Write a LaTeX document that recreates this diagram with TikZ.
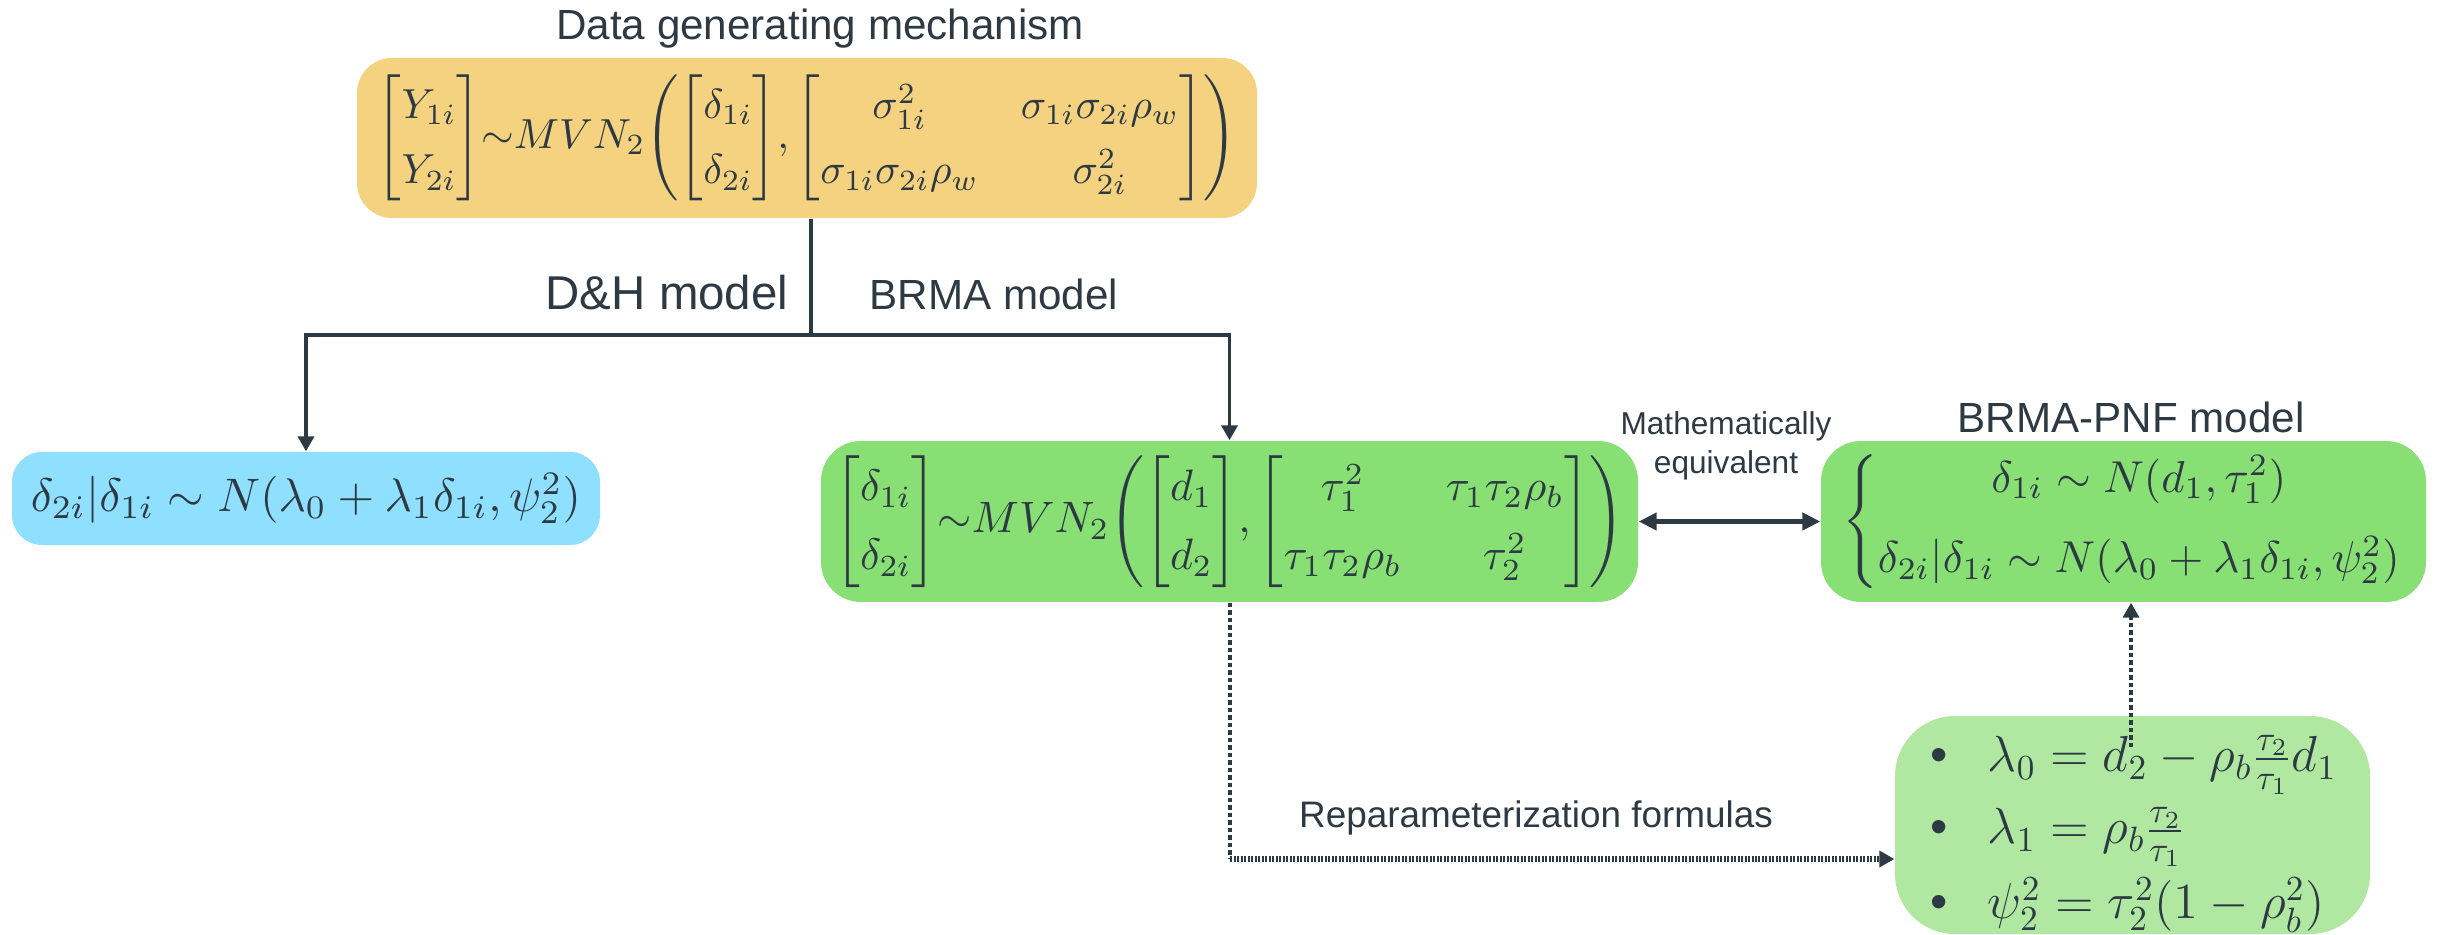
\documentclass[tikz,border=0pt]{standalone}
\usepackage{amsmath}
\usepackage{graphicx}
\usepackage[no-math]{fontspec}
\setmainfont{Liberation Sans}
\usetikzlibrary{arrows.meta}
\definecolor{ink}{HTML}{2D3A44}
\definecolor{orangebox}{HTML}{F4D27F}
\definecolor{bluebox}{HTML}{8FDFFF}
\definecolor{greenbox}{HTML}{88DF73}
\definecolor{lightgreen}{HTML}{B0E8A1}
\newcommand{\tallmat}[1]{{\renewcommand{\arraystretch}{1.3}\begin{bmatrix}#1\end{bmatrix}}}
\tikzset{
  modelbox/.style={rectangle, rounded corners=#1, inner sep=0pt, text=ink, align=center},
  lbl/.style={text=ink, inner sep=0pt},
  conn/.style={draw=ink, line width=1pt},
  tip/.style={-{Triangle[length=1.5mm,width=1.6mm]}},
  dashline/.style={draw=ink, line width=1pt, dash pattern=on 0.45mm off 0.3mm},
  dotline/.style={draw=ink, line width=1.6pt, dash pattern=on 0.2mm off 0.15mm},
}
\begin{document}
\begin{tikzpicture}[x=0.1mm,y=-0.1mm]
\useasboundingbox (0,0) rectangle (2443,935);
% boxes
\node[modelbox=3.5mm, fill=orangebox, minimum width=90mm, minimum height=16mm] (top) at (807,138)
 {\resizebox{86mm}{!}{$\tallmat{Y_{1i}\\ Y_{2i}}{\sim}MVN_2\Biggl(\tallmat{\delta_{1i}\\ \delta_{2i}},\tallmat{\sigma_{1i}^2 & \sigma_{1i}\sigma_{2i}\rho_w\\ \sigma_{1i}\sigma_{2i}\rho_w & \sigma_{2i}^2}\Biggr)$}};
\node[lbl, anchor=base, font=\fontsize{12pt}{14pt}\selectfont] (title) at (820,40) {Data generating mechanism};

\node[modelbox=3mm, fill=bluebox, minimum width=58.8mm, minimum height=9.3mm] (blue) at (306,498.5)
 {\resizebox{55mm}{!}{$\delta_{2i}|\delta_{1i}\sim N(\lambda_0+\lambda_1\delta_{1i},\psi_2^2)$}};

\node[modelbox=4mm, fill=greenbox, minimum width=81.7mm, minimum height=16.1mm] (green) at (1229.5,521.5)
 {\resizebox{79mm}{!}{$\tallmat{\delta_{1i}\\ \delta_{2i}}{\sim}MVN_2\Biggl(\tallmat{d_1\\ d_2},\tallmat{\tau_1^2 & \tau_1\tau_2\rho_b\\ \tau_1\tau_2\rho_b & \tau_2^2}\Biggr)$}};

\node[modelbox=4mm, fill=greenbox, minimum width=60.5mm, minimum height=16.1mm] (pnf) at (2123.5,521.5)
 {\resizebox{56.3mm}{!}{$\left\{\begin{array}{@{}c@{}}\delta_{1i}\sim N(d_1,\tau_1^2)\\[6pt] \delta_{2i}|\delta_{1i}\sim N(\lambda_0+\lambda_1\delta_{1i},\psi_2^2)\end{array}\right.$}};
\node[lbl, anchor=base, font=\fontsize{12pt}{14pt}\selectfont] (pnftitle) at (2131,432) {BRMA-PNF model};

\node[modelbox=6mm, fill=lightgreen, minimum width=47.5mm, minimum height=21.8mm] (fbox) at (2132.5,825) {};
\node[lbl, anchor=west, font=\fontsize{14pt}{16pt}\selectfont] (f1) at (1930,765) {\textbullet\hspace{4mm}$\lambda_0=d_2-\rho_b\frac{\tau_2}{\tau_1}d_1$};
\node[lbl, anchor=west, font=\fontsize{14pt}{16pt}\selectfont] (f2) at (1930,837) {\textbullet\hspace{4mm}$\lambda_1=\rho_b\frac{\tau_2}{\tau_1}$};
\node[lbl, anchor=west, font=\fontsize{14pt}{16pt}\selectfont] (f3) at (1930,905) {\textbullet\hspace{4mm}$\psi_2^2=\tau_2^2(1-\rho_b^2)$};

% labels
\node[lbl, anchor=base east, font=\fontsize{13.5pt}{16pt}\selectfont] (dh) at (789,310) {D\&H model};
\node[lbl, anchor=base west, font=\fontsize{12pt}{14pt}\selectfont] (brma) at (869,310) {BRMA model};
\node[lbl, align=center, font=\fontsize{9pt}{11pt}\selectfont] (equiv) at (1726,446) {Mathematically\\equivalent};
\node[lbl, font=\fontsize{10.5pt}{12pt}\selectfont] (reparam) at (1536,818) {Reparameterization formulas};

% connectors
\coordinate (split) at (811,335);
\coordinate (corner) at (1230,859);
\coordinate (upstart) at (2131,747);
\draw[conn] (split |- top.south) -- (split);
\draw[conn, tip] (split) -| (blue.north);
\draw[conn, tip] (split) -| (green.north);
\draw[conn, line width=1.4pt, {Triangle[length=1.8mm,width=1.7mm]}-{Triangle[length=1.8mm,width=1.7mm]}] (green.east) -- (pnf.west);
\draw[dashline] (green.south -| corner) -- (corner);
\draw[dotline, tip] (corner) -- (fbox.west |- corner);
\draw[dashline, tip] (upstart) -- (upstart |- pnf.south);
\end{tikzpicture}
\end{document}
